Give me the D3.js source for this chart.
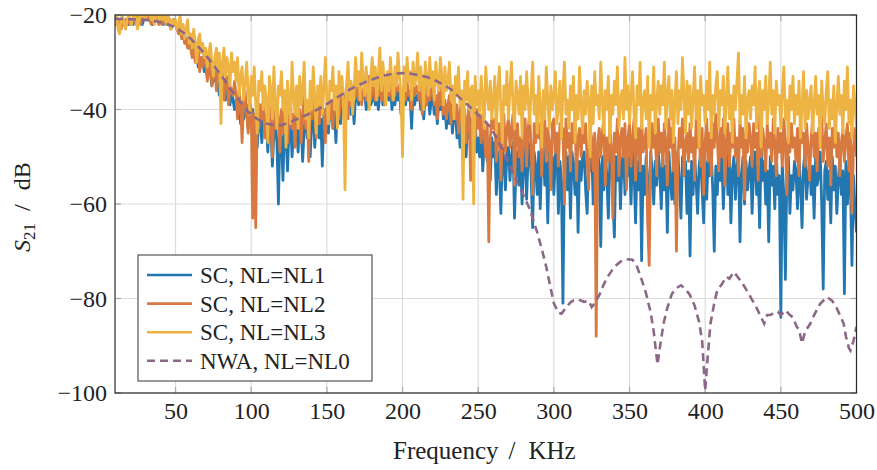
<!DOCTYPE html>
<html>
<head>
<meta charset="utf-8">
<script src="https://cdn.jsdelivr.net/npm/d3@7"></script>
<style>
  body { margin: 0; background: #fff; }
  text { font-family: "Liberation Serif", "DejaVu Serif", serif; fill: #222; }
</style>
</head>
<body>
<svg id="chart"></svg>
<script>
const width = 877;
const height = 470;
const margin = { top: 15, right: 20.5, bottom: 77, left: 115 };

// sampling grid, 1 kHz steps
const freq = d3.range(10, 501, 1);

// SC, NL=NL1
const nl1 = [
  -21, -22, -21, -21, -22, -21, -22, -21, -21, -22,
  -21, -21, -22, -20, -21, -21, -20, -21, -22, -21,
  -20, -21, -21, -20, -21, -22, -21, -20, -21, -21,
  -21, -20, -22, -21, -21, -22, -21, -22, -22, -21,
  -22, -23, -22, -24, -23, -25, -24, -26, -25, -27,
  -26, -28, -27, -29, -28, -31, -29, -30, -29, -32,
  -31, -33, -31, -32, -35, -33, -34, -32, -35, -37,
  -34, -36, -35, -38, -36, -37, -39, -36, -38, -40,
  -38, -40, -39, -43, -40, -42, -41, -39, -44, -41,
  -42, -40, -45, -42, -48, -43, -41, -47, -42, -44,
  -43, -49, -42, -44, -52, -45, -43, -47, -60, -44,
  -46, -55, -43, -45, -53, -44, -42, -50, -45, -43,
  -44, -49, -42, -43, -51, -44, -41, -46, -43, -50,
  -42, -41, -48, -43, -40, -46, -42, -52, -41, -40,
  -40, -45, -39, -41, -44, -40, -47, -39, -38, -43,
  -39, -37, -42, -38, -40, -36, -41, -38, -43, -37,
  -37, -39, -35, -38, -37, -36, -40, -37, -35, -39,
  -38, -35, -39, -36, -40, -37, -35, -39, -36, -38,
  -36, -38, -35, -40, -37, -39, -35, -38, -36, -41,
  -37, -36, -39, -35, -38, -37, -44, -36, -39, -37,
  -38, -36, -40, -38, -42, -37, -39, -36, -41, -38,
  -37, -41, -39, -43, -38, -40, -37, -42, -39, -44,
  -40, -43, -39, -45, -41, -40, -46, -42, -48, -41,
  -44, -42, -50, -43, -46, -42, -52, -45, -43, -49,
  -46, -50, -44, -53, -47, -45, -51, -48, -55, -46,
  -50, -47, -58, -49, -52, -62, -48, -51, -57, -49,
  -48, -55, -50, -47, -63, -52, -49, -56, -50, -60,
  -51, -48, -59, -50, -47, -54, -65, -49, -52, -58,
  -49, -61, -50, -48, -56, -51, -64, -49, -53, -50,
  -58, -50, -47, -62, -51, -55, -81, -52, -49, -57,
  -50, -63, -49, -52, -58, -48, -66, -51, -55, -50,
  -49, -57, -62, -50, -53, -48, -60, -51, -56, -49,
  -52, -69, -50, -57, -49, -54, -63, -51, -48, -59,
  -67, -50, -55, -49, -61, -52, -48, -58, -51, -54,
  -50, -60, -49, -53, -64, -51, -57, -49, -72, -52,
  -58, -50, -55, -63, -49, -53, -60, -51, -56, -49,
  -53, -61, -50, -57, -52, -66, -49, -55, -59, -51,
  -60, -52, -49, -56, -63, -50, -54, -51, -62, -53,
  -71, -51, -58, -50, -55, -62, -52, -49, -57, -64,
  -51, -59, -50, -54, -49, -57, -70, -52, -58, -50,
  -55, -50, -61, -52, -48, -58, -51, -64, -53, -50,
  -59, -52, -49, -68, -54, -50, -60, -51, -57, -53,
  -50, -62, -53, -49, -58, -52, -65, -48, -55, -51,
  -60, -53, -68, -50, -56, -52, -61, -49, -58, -54,
  -84, -52, -58, -76, -53, -50, -62, -54, -57, -51,
  -53, -61, -50, -56, -65, -52, -49, -59, -54, -51,
  -58, -52, -63, -50, -56, -54, -49, -60, -78, -53,
  -51, -59, -53, -64, -50, -57, -52, -62, -55, -50,
  -58, -53, -79, -51, -60, -52, -56, -73, -54, -61,
  -66
];

// SC, NL=NL2
const nl2 = [
  -21, -22, -21, -22, -23, -21, -22, -21, -22, -21,
  -22, -21, -21, -20, -22, -21, -21, -22, -20, -21,
  -21, -21, -20, -21, -22, -21, -20, -21, -21, -22,
  -21, -22, -21, -20, -22, -21, -22, -23, -22, -21,
  -22, -23, -24, -22, -25, -24, -26, -25, -27, -26,
  -27, -29, -26, -30, -28, -27, -32, -29, -31, -28,
  -30, -34, -31, -29, -35, -32, -30, -36, -33, -31,
  -35, -32, -38, -34, -33, -39, -35, -36, -37, -34,
  -37, -42, -36, -39, -47, -38, -36, -41, -45, -38,
  -40, -63, -41, -65, -40, -44, -39, -42, -38, -46,
  -41, -46, -39, -43, -50, -40, -44, -38, -42, -49,
  -40, -45, -41, -38, -47, -42, -39, -44, -41, -48,
  -39, -43, -40, -47, -41, -37, -44, -40, -51, -39,
  -42, -38, -41, -46, -39, -43, -36, -41, -40, -47,
  -39, -37, -42, -38, -44, -36, -40, -37, -42, -39,
  -36, -40, -38, -35, -42, -37, -39, -35, -38, -37,
  -35, -38, -34, -39, -36, -35, -38, -37, -33, -38,
  -36, -34, -38, -35, -37, -33, -38, -35, -39, -35,
  -34, -37, -33, -38, -35, -37, -34, -36, -35, -39,
  -37, -35, -38, -34, -37, -36, -40, -35, -37, -35,
  -36, -38, -35, -41, -37, -35, -39, -34, -38, -36,
  -35, -39, -37, -42, -36, -39, -35, -41, -38, -42,
  -39, -37, -43, -40, -37, -42, -39, -45, -41, -38,
  -43, -40, -47, -42, -39, -55, -44, -41, -46, -40,
  -44, -42, -47, -41, -45, -50, -43, -68, -46, -42,
  -44, -42, -51, -45, -43, -55, -46, -41, -49, -44,
  -42, -48, -44, -41, -56, -45, -43, -50, -46, -53,
  -45, -42, -52, -44, -41, -49, -58, -43, -47, -42,
  -46, -43, -54, -45, -42, -51, -44, -47, -57, -43,
  -42, -49, -45, -52, -43, -46, -44, -60, -42, -48,
  -45, -53, -43, -47, -42, -55, -46, -44, -50, -43,
  -47, -43, -51, -57, -44, -46, -53, -45, -88, -47,
  -44, -50, -45, -42, -56, -46, -51, -43, -48, -63,
  -45, -49, -42, -54, -46, -44, -50, -43, -57, -46,
  -43, -52, -46, -42, -55, -47, -44, -53, -42, -49,
  -47, -44, -64, -73, -50, -43, -48, -45, -54, -42,
  -49, -45, -52, -43, -47, -56, -42, -48, -44, -53,
  -46, -70, -50, -44, -48, -42, -54, -47, -45, -51,
  -43, -49, -46, -55, -42, -48, -45, -52, -44, -58,
  -47, -42, -51, -45, -54, -43, -48, -41, -46, -53,
  -44, -50, -42, -56, -47, -43, -52, -45, -48, -42,
  -50, -46, -54, -42, -48, -44, -59, -45, -49, -43,
  -46, -52, -43, -48, -45, -55, -41, -50, -44, -47,
  -53, -43, -48, -45, -51, -42, -47, -54, -44, -49,
  -45, -52, -42, -47, -58, -44, -49, -43, -48, -46,
  -51, -44, -54, -42, -47, -45, -52, -43, -48, -55,
  -46, -42, -50, -45, -53, -44, -48, -41, -51, -47,
  -43, -52, -46, -56, -44, -48, -42, -50, -45, -54,
  -47, -44, -51, -46, -43, -53, -45, -62, -48, -44,
  -50
];

// SC, NL=NL3
const nl3 = [
  -22, -20, -23, -24, -21, -20, -22, -23, -21, -20,
  -21, -22, -20, -19, -21, -23, -20, -21, -19, -20,
  -21, -20, -19, -20, -21, -20, -22, -20, -19, -21,
  -20, -21, -19, -21, -22, -20, -21, -23, -21, -22,
  -21, -23, -22, -20, -24, -22, -25, -23, -21, -26,
  -24, -27, -23, -26, -30, -25, -24, -28, -26, -29,
  -27, -31, -28, -26, -30, -33, -29, -27, -32, -28,
  -43, -30, -27, -33, -29, -31, -35, -28, -32, -30,
  -34, -29, -37, -33, -31, -38, -35, -30, -36, -41,
  -33, -37, -31, -39, -45, -34, -36, -32, -40, -35,
  -38, -47, -33, -36, -42, -31, -39, -44, -35, -37,
  -32, -40, -36, -48, -34, -38, -43, -30, -37, -41,
  -35, -44, -33, -39, -36, -30, -42, -38, -46, -34,
  -40, -31, -37, -45, -35, -39, -33, -41, -36, -29,
  -38, -43, -34, -36, -31, -40, -35, -44, -32, -37,
  -33, -39, -57, -35, -30, -38, -34, -41, -36, -29,
  -35, -32, -38, -28, -34, -37, -31, -36, -40, -33,
  -29, -35, -31, -38, -33, -27, -36, -30, -34, -39,
  -32, -36, -29, -34, -38, -31, -35, -28, -33, -37,
  -50, -31, -36, -29, -34, -32, -38, -30, -35, -33,
  -28, -36, -31, -34, -40, -30, -33, -37, -29, -35,
  -32, -38, -30, -34, -36, -29, -33, -39, -31, -36,
  -34, -30, -38, -35, -42, -33, -37, -31, -39, -36,
  -59, -34, -38, -32, -40, -36, -35, -60, -33, -39,
  -36, -41, -33, -38, -44, -31, -37, -40, -34, -42,
  -38, -33, -45, -36, -31, -40, -47, -35, -39, -32,
  -42, -36, -30, -39, -44, -34, -37, -41, -33, -46,
  -35, -40, -32, -38, -43, -36, -30, -41, -37, -45,
  -33, -39, -48, -36, -42, -31, -38, -44, -35, -40,
  -37, -32, -43, -39, -34, -46, -36, -30, -41, -38,
  -44, -35, -40, -33, -47, -37, -42, -31, -39, -45,
  -36, -41, -34, -38, -50, -35, -43, -32, -39, -37,
  -42, -30, -38, -45, -36, -40, -33, -47, -37, -41,
  -34, -39, -31, -44, -38, -36, -42, -29, -40, -35,
  -43, -37, -32, -41, -46, -35, -39, -30, -44, -38,
  -36, -42, -33, -48, -37, -40, -31, -45, -38, -34,
  -41, -35, -39, -30, -44, -37, -33, -42, -36, -47,
  -38, -32, -43, -36, -40, -29, -37, -45, -34, -41,
  -35, -44, -38, -31, -42, -36, -48, -33, -39, -37,
  -43, -34, -40, -30, -46, -37, -41, -35, -32, -44,
  -36, -39, -33, -45, -38, -31, -42, -37, -47, -35,
  -40, -34, -28, -43, -37, -41, -33, -46, -38, -36,
  -42, -35, -39, -31, -44, -37, -34, -48, -36, -40,
  -33, -43, -38, -30, -41, -36, -45, -34, -39, -37,
  -44, -36, -31, -42, -38, -47, -35, -40, -33, -43,
  -37, -41, -34, -46, -39, -32, -44, -36, -42, -38,
  -35, -45, -39, -33, -41, -37, -48, -34, -40, -43,
  -36, -32, -44, -38, -42, -35, -47, -39, -33, -41,
  -37, -45, -34, -40, -31, -43, -38, -46, -35, -39,
  -44
];

// NWA, NL=NL0 (smooth reference curve)
const nwaFreq = [
  10, 20, 30, 40, 45, 50, 55, 60, 65, 70, 76, 82, 87, 92, 98, 104, 109, 115,
  120, 126, 131, 137, 142, 148, 154, 160, 165, 170, 176, 182, 188, 194, 200,
  205, 210, 216, 222, 227, 232, 238, 243, 249, 254, 258, 263, 269, 274, 279,
  284, 289, 292, 295, 298, 300, 303, 305, 308, 311, 313, 316, 320, 323, 325,
  327, 330, 333, 336, 340, 344, 348, 352, 355, 358, 361, 364, 366, 368.5, 370,
  372.5, 375, 378, 381, 384, 387, 390, 393, 396, 398, 400, 401.5, 403.5, 406,
  408, 411, 414, 416, 419, 423, 426, 430, 434, 437, 439, 441, 443, 446, 448,
  450, 453, 456, 458, 460.5, 462, 464, 466, 469.5, 472, 476, 480.5, 484, 487,
  489, 491.5, 493, 495, 496, 498, 500
];
const nwa = [
  -20.8, -20.9, -21, -21.5, -22, -22.6, -23.7, -25, -26.7, -28.5, -31, -33.6, -36, -38, -40.5, -42, -42.9, -43.3,
  -43.3, -42.7, -41.9, -41.1, -40.3, -39.3, -38, -36.8, -35.8, -35, -34.1, -33.4, -32.8, -32.4, -32.3,
  -32.4, -32.7, -33.1, -33.9, -34.8, -35.7, -37.6, -39, -40.8, -42.3, -43.7, -46.5, -50.5, -54, -57.5,
  -61, -66, -69.5, -73.3, -78, -81, -83, -83.2, -82, -80.8, -80.4, -80.2, -80.7, -80.5, -81.8,
  -81, -79.3, -77, -75.2, -73.3, -72.2, -71.7, -71.8, -73.3, -76, -79, -83, -87, -94, -90.5,
  -85.3, -82, -79, -77.8, -77.2, -78, -79.3, -81.5, -85, -89, -99.5, -93, -85.3, -81,
  -78.2, -77, -75.4, -75.8, -74.4, -76.1, -77.5, -79.7, -82, -84, -85.3, -83.5, -83.5, -83, -82.8,
  -83.5, -82.5, -83.5, -84, -86, -86.5, -89.5, -87, -85.3, -83.5, -81.1, -79.7, -80.5, -82.1,
  -83.5, -85.3, -88, -90.5, -91, -89, -86
];

const labels = ["SC, NL=NL1", "SC, NL=NL2", "SC, NL=NL3", "NWA, NL=NL0"];
const colors = ["#2277b0", "#d87a40", "#eeb443", "#8c6888"];

const xTicks = [50, 100, 150, 200, 250, 300, 350, 400, 450, 500];
const yTicks = [-100, -80, -60, -40, -20];

const innerW = width - margin.left - margin.right;
const innerH = height - margin.top - margin.bottom;

const svg = d3.select("#chart")
  .attr("width", width)
  .attr("height", height);

const xScale = d3.scaleLinear().domain([10, 500]).range([margin.left, margin.left + innerW]);
const yScale = d3.scaleLinear().domain([-100, -20]).range([margin.top + innerH, margin.top]);

svg.append("clipPath").attr("id", "plot-clip")
  .append("rect")
  .attr("x", margin.left).attr("y", margin.top)
  .attr("width", innerW).attr("height", innerH);

// grid
svg.append("g")
  .selectAll("line")
  .data(xTicks)
  .join("line")
  .attr("x1", d => xScale(d)).attr("x2", d => xScale(d))
  .attr("y1", margin.top).attr("y2", margin.top + innerH)
  .attr("stroke", "#dcdcdc").attr("stroke-width", 1.2);

svg.append("g")
  .selectAll("line")
  .data(yTicks)
  .join("line")
  .attr("x1", margin.left).attr("x2", margin.left + innerW)
  .attr("y1", d => yScale(d)).attr("y2", d => yScale(d))
  .attr("stroke", "#dcdcdc").attr("stroke-width", 1.2);

// inner tick marks on all four sides
const tickLen = 6;
const tickG = svg.append("g").attr("stroke", "#a8a8a8").attr("stroke-width", 1.2);
xTicks.forEach(t => {
  tickG.append("line").attr("x1", xScale(t)).attr("x2", xScale(t))
    .attr("y1", margin.top + innerH).attr("y2", margin.top + innerH - tickLen);
  tickG.append("line").attr("x1", xScale(t)).attr("x2", xScale(t))
    .attr("y1", margin.top).attr("y2", margin.top + tickLen);
});
yTicks.forEach(t => {
  tickG.append("line").attr("y1", yScale(t)).attr("y2", yScale(t))
    .attr("x1", margin.left).attr("x2", margin.left + tickLen);
  tickG.append("line").attr("y1", yScale(t)).attr("y2", yScale(t))
    .attr("x1", margin.left + innerW).attr("x2", margin.left + innerW - tickLen);
});

// series
const line = d3.line()
  .x((d, i) => xScale(freq[i]))
  .y(d => yScale(d));

const plot = svg.append("g").attr("clip-path", "url(#plot-clip)");

[nl1, nl2, nl3].forEach((vals, k) => {
  plot.append("path")
    .datum(vals)
    .attr("fill", "none")
    .attr("stroke", colors[k])
    .attr("stroke-width", 2.8)
    .attr("stroke-linejoin", "round")
    .attr("d", line);
});

const nwaLine = d3.line()
  .x((d, i) => xScale(nwaFreq[i]))
  .y(d => yScale(d));

plot.append("path")
  .datum(nwa)
  .attr("fill", "none")
  .attr("stroke", colors[3])
  .attr("stroke-width", 2.6)
  .attr("stroke-dasharray", "8,5")
  .attr("d", nwaLine);

// frame
svg.append("rect")
  .attr("x", margin.left).attr("y", margin.top)
  .attr("width", innerW).attr("height", innerH)
  .attr("fill", "none").attr("stroke", "#2b2b2b").attr("stroke-width", 1.2);

// axes labels
const xAxis = d3.axisBottom(xScale).tickValues(xTicks).tickSize(0).tickPadding(9);
const gx = svg.append("g")
  .attr("transform", `translate(0, ${margin.top + innerH})`)
  .call(xAxis);
gx.select(".domain").remove();
gx.selectAll("text").attr("font-size", 24).attr("fill", "#222")
  .style("font-family", "'Liberation Serif', serif");

const yAxis = d3.axisLeft(yScale).tickValues(yTicks).tickSize(0).tickPadding(8)
  .tickFormat(d => String(d).replace("-", "\u2212"));
const gy = svg.append("g")
  .attr("transform", `translate(${margin.left}, 0)`)
  .call(yAxis);
gy.select(".domain").remove();
gy.selectAll("text").attr("font-size", 24).attr("fill", "#222")
  .style("font-family", "'Liberation Serif', serif");

const xLabel = svg.append("text")
  .attr("x", 393)
  .attr("y", 459)
  .attr("font-size", 25);
xLabel.append("tspan").text("Frequency");
xLabel.append("tspan").attr("dx", 10).text("/");
xLabel.append("tspan").attr("dx", 13).text("KHz");

const yLabel = svg.append("text")
  .attr("transform", "translate(30, 252) rotate(-90)")
  .attr("font-size", 24);
yLabel.append("tspan").attr("font-style", "italic").text("S");
yLabel.append("tspan").attr("font-size", 17).attr("dy", 5).text("21");
yLabel.append("tspan").attr("dy", -5).attr("dx", 12).text("/");
yLabel.append("tspan").attr("dx", 14).text("dB");

// legend
const legend = svg.append("g").attr("transform", "translate(138, 255)");
legend.append("rect")
  .attr("width", 234).attr("height", 126)
  .attr("fill", "#fff").attr("stroke", "#555").attr("stroke-width", 1.2);

const rows = legend.selectAll("g")
  .data(labels)
  .join("g")
  .attr("transform", (d, i) => `translate(0, ${20 + i * 28.6})`);

rows.append("line")
  .attr("x1", 9).attr("x2", 54)
  .attr("stroke", (d, i) => colors[i])
  .attr("stroke-width", 2.6)
  .attr("stroke-dasharray", (d, i) => i === 3 ? "8,5" : null);

rows.append("text")
  .attr("x", 62).attr("y", 8)
  .attr("font-size", 23)
  .text(d => d);
</script>
</body>
</html>
